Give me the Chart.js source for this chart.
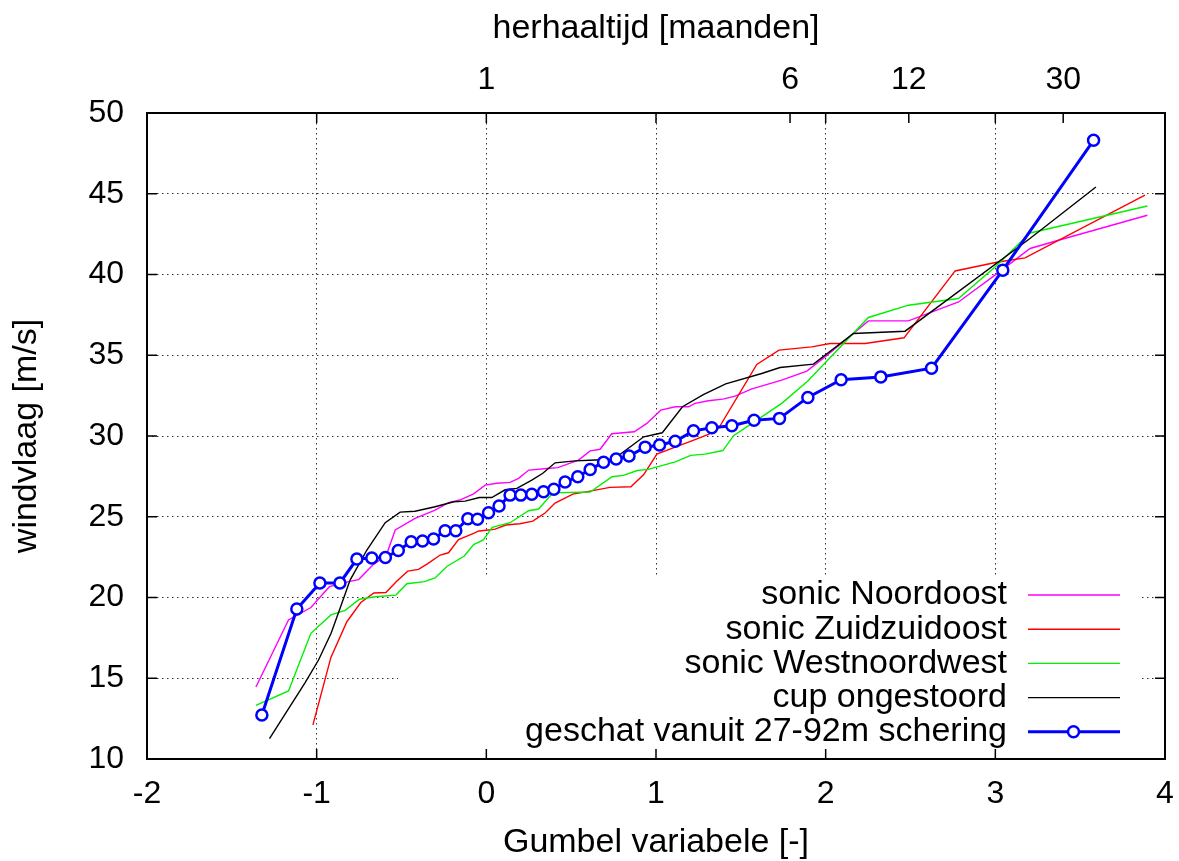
<!DOCTYPE html>
<html lang="nl">
<head>
<meta charset="UTF-8">
<title>Windvlaag tegen Gumbel variabele</title>
<script src="https://cdn.jsdelivr.net/npm/chart.js"></script>
<style>
  html, body { margin: 0; padding: 0; background: #fff; }
</style>
</head>
<body>
<canvas id="chart" width="1179" height="861"></canvas>
<script>
// --- data (x = Gumbel variabele, y = windvlaag m/s) ---
const noordoostX = [-1.358,-1.166,-1.034,-0.925,-0.812,-0.753,-0.669,-0.59,-0.537,-0.420,-0.302,-0.223,-0.150,-0.075,-0.007,0.062,0.140,0.190,0.250,0.357,0.421,0.543,0.612,0.671,0.739,0.872,0.946,1.028,1.113,1.192,1.230,1.309,1.394,1.466,1.565,1.741,1.889,1.996,2.252,2.488,2.783,3.018,3.205,3.372,3.896];
const noordoostY = [14.46,18.61,19.38,20.67,20.98,21.11,22.01,22.6,24.18,24.90,25.41,25.87,26.06,26.42,26.96,27.07,27.13,27.38,27.89,27.99,28.04,28.51,29.08,29.18,30.14,30.26,30.78,31.60,31.81,31.81,32.02,32.18,32.28,32.47,32.92,33.46,34.02,34.90,37.13,37.13,38.30,40.12,41.61,42.12,43.67];

const zuidzuidoostX = [-1.022,-0.916,-0.822,-0.740,-0.663,-0.592,-0.527,-0.463,-0.400,-0.345,-0.272,-0.223,-0.164,-0.075,-0.044,0.013,0.052,0.115,0.197,0.274,0.346,0.405,0.510,0.612,0.728,0.852,0.928,1.005,1.113,1.211,1.309,1.370,1.594,1.725,1.918,2.026,2.232,2.462,2.763,3.008,3.175,3.882];
const zuidzuidoostY = [12.11,16.29,18.50,19.69,20.28,20.31,21.02,21.63,21.74,22.10,22.63,22.77,23.59,23.97,24.12,24.18,24.23,24.49,24.57,24.73,25.23,25.85,26.40,26.59,26.82,26.86,27.61,28.88,29.31,29.70,30.10,30.49,34.43,35.32,35.52,35.73,35.73,36.08,40.22,40.76,41.03,44.91];

const westnoordwestX = [-1.358,-1.166,-1.034,-0.916,-0.832,-0.748,-0.655,-0.533,-0.468,-0.365,-0.302,-0.233,-0.130,-0.075,-0.018,0.035,0.140,0.249,0.308,0.392,0.612,0.741,0.808,0.890,0.955,1.113,1.205,1.288,1.394,1.457,1.594,1.741,1.895,2.252,2.488,2.783,2.998,3.205,3.896];
const westnoordwestY = [13.32,14.21,17.78,18.92,19.20,19.89,20.05,20.15,20.85,20.98,21.21,21.92,22.57,23.28,23.56,24.34,24.63,25.37,25.48,26.48,26.53,27.48,27.56,27.86,27.93,28.40,28.80,28.88,29.10,30.02,30.98,32.02,33.40,37.34,38.10,38.51,40.47,42.57,44.24];

const cupX = [-1.278,-1.068,-0.989,-0.915,-0.862,-0.803,-0.704,-0.596,-0.508,-0.420,-0.302,-0.192,-0.125,-0.041,0.032,0.111,0.180,0.268,0.333,0.405,0.523,0.641,0.751,0.928,1.037,1.156,1.279,1.411,1.623,1.731,1.928,2.164,2.468,3.204,3.593];
const cupY = [11.26,14.73,16.13,17.78,19.33,21.08,22.94,24.63,25.29,25.34,25.62,25.93,25.97,26.19,26.19,26.67,26.76,27.27,27.69,28.34,28.46,28.51,28.57,29.95,30.20,31.81,32.56,33.23,33.87,34.24,34.45,36.35,36.49,42.23,45.42];

const scheringX = [-1.323,-1.117,-0.981,-0.863,-0.763,-0.675,-0.595,-0.519,-0.443,-0.376,-0.311,-0.243,-0.180,-0.109,-0.052,0.013,0.075,0.140,0.203,0.268,0.337,0.398,0.464,0.539,0.612,0.691,0.765,0.841,0.936,1.021,1.113,1.221,1.329,1.447,1.578,1.728,1.895,2.091,2.325,2.624,3.044,3.579];
const scheringY = [12.73,19.29,20.90,20.90,22.38,22.44,22.48,22.91,23.45,23.50,23.62,24.13,24.13,24.88,24.84,25.25,25.66,26.34,26.34,26.39,26.55,26.70,27.15,27.48,27.93,28.38,28.57,28.76,29.31,29.44,29.67,30.32,30.51,30.63,30.97,31.09,32.39,33.48,33.66,34.20,40.27,48.31];

// top axis: herhaaltijd in maanden, at these Gumbel positions
const topTickLabels = ['1', '6', '12', '30'];
const topTickPos = [0, 1.79, 2.49, 3.40];

const seriesLabels = ['sonic Noordoost', 'sonic Zuidzuidoost', 'sonic Westnoordwest', 'cup ongestoord', 'geschat vanuit 27-92m schering'];

const FONT = '"Liberation Sans", Arial, Helvetica, sans-serif';
Chart.defaults.font.family = FONT;
Chart.defaults.color = '#000';

function pairs(xs, ys) {
  return xs.map((x, i) => ({ x: x, y: ys[i] }));
}

function thinLine(label, xs, ys, color, order) {
  return {
    label: label,
    data: pairs(xs, ys),
    borderColor: color,
    borderWidth: 1.4,
    pointRadius: 0,
    tension: 0,
    order: order
  };
}

const datasets = [
  thinLine(seriesLabels[0], noordoostX, noordoostY, '#ff00ff', 5),
  thinLine(seriesLabels[1], zuidzuidoostX, zuidzuidoostY, '#ff0000', 4),
  thinLine(seriesLabels[2], westnoordwestX, westnoordwestY, '#00f000', 3),
  thinLine(seriesLabels[3], cupX, cupY, '#000000', 2),
  {
    label: seriesLabels[4],
    data: pairs(scheringX, scheringY),
    borderColor: '#0000ff',
    borderWidth: 3,
    pointRadius: 5.5,
    pointBorderWidth: 2.5,
    pointBorderColor: '#0000ff',
    pointBackgroundColor: '#ffffff',
    tension: 0,
    order: 1
  }
];

// opaque key box, frame with inward ticks, and the key itself
const gnuFrame = {
  id: 'gnuFrame',
  beforeDatasetsDraw(chart) {
    const a = chart.chartArea, ctx = chart.ctx;
    ctx.save();
    ctx.fillStyle = '#fff';
    ctx.fillRect(398, 578, (a.right - 25) - 398, a.bottom - 578);
    ctx.restore();
  },
  afterDraw(chart) {
    const a = chart.chartArea, ctx = chart.ctx;
    const sx = chart.scales.x, sx2 = chart.scales.x2, sy = chart.scales.y;
    const TL = 10;
    ctx.save();
    ctx.strokeStyle = '#000';
    ctx.lineWidth = 1.5;
    ctx.beginPath();
    sx.ticks.forEach(t => {
      const p = sx.getPixelForValue(t.value);
      ctx.moveTo(p, a.bottom); ctx.lineTo(p, a.bottom - TL);
      ctx.moveTo(p, a.top); ctx.lineTo(p, a.top + TL);
    });
    sx2.ticks.forEach(t => {
      const p = sx2.getPixelForValue(t.value);
      ctx.moveTo(p, a.top); ctx.lineTo(p, a.top + TL);
    });
    sy.ticks.forEach(t => {
      const p = sy.getPixelForValue(t.value);
      ctx.moveTo(a.left, p); ctx.lineTo(a.left + TL, p);
      ctx.moveTo(a.right, p); ctx.lineTo(a.right - TL, p);
    });
    ctx.stroke();
    ctx.lineWidth = 2;
    ctx.strokeRect(a.left, a.top, a.right - a.left, a.bottom - a.top);

    // key
    ctx.font = '34px ' + FONT;
    ctx.textAlign = 'right';
    ctx.textBaseline = 'middle';
    const keyOrder = [0, 1, 2, 3, 4];
    keyOrder.forEach((di, row) => {
      const ds = chart.data.datasets[di];
      const y = a.bottom - 164 + row * 34.2;
      ctx.fillStyle = '#000';
      ctx.fillText(ds.label, a.right - 158, y);
      ctx.strokeStyle = ds.borderColor;
      ctx.lineWidth = ds.borderWidth;
      ctx.beginPath();
      ctx.moveTo(a.right - 137, y);
      ctx.lineTo(a.right - 45, y);
      ctx.stroke();
      if (ds.pointRadius) {
        ctx.beginPath();
        ctx.arc(a.right - 91.5, y, ds.pointRadius, 0, Math.PI * 2);
        ctx.fillStyle = ds.pointBackgroundColor;
        ctx.fill();
        ctx.lineWidth = ds.pointBorderWidth;
        ctx.strokeStyle = ds.pointBorderColor;
        ctx.stroke();
      }
    });
    ctx.restore();
  }
};

const gridDots = { display: false, dash: [1.5, 3.5] };

new Chart(document.getElementById('chart'), {
  type: 'line',
  data: { datasets: datasets },
  options: {
    responsive: false,
    animation: false,
    layout: { padding: { left: 0, right: 14, top: 0, bottom: 0 } },
    plugins: {
      legend: { display: false },
      tooltip: { enabled: false }
    },
    scales: {
      x: {
        type: 'linear',
        position: 'bottom',
        min: -2,
        max: 4,
        ticks: { stepSize: 1, padding: 0, font: { size: 32, lineHeight: 2.2 }, color: '#000' },
        grid: { color: '#333', lineWidth: 1, drawTicks: false },
        border: gridDots,
        title: {
          display: true,
          text: 'Gumbel variabele [-]',
          font: { size: 34, lineHeight: 1 },
          padding: { top: 0, bottom: 1 },
          color: '#000'
        },
        afterFit(scale) { scale.height = 102; }
      },
      x2: {
        type: 'linear',
        position: 'top',
        min: -2,
        max: 4,
        afterBuildTicks(scale) {
          scale.ticks = topTickPos.map(v => ({ value: v }));
        },
        ticks: {
          autoSkip: false,
          padding: 14,
          font: { size: 32 },
          color: '#000',
          callback: (value, index) => topTickLabels[index]
        },
        grid: { display: false, drawTicks: false },
        border: { display: false },
        title: {
          display: true,
          text: 'herhaaltijd [maanden]',
          font: { size: 34, lineHeight: 1 },
          padding: { top: 12, bottom: 0 },
          color: '#000'
        },
        afterFit(scale) { scale.height = 113; }
      },
      y: {
        type: 'linear',
        position: 'left',
        min: 10,
        max: 50,
        ticks: { stepSize: 5, padding: 23, font: { size: 32 }, color: '#000' },
        grid: { color: '#333', lineWidth: 1, drawTicks: false },
        border: gridDots,
        title: {
          display: true,
          text: 'windvlaag [m/s]',
          font: { size: 34, lineHeight: 1 },
          padding: { top: 10, bottom: 0 },
          color: '#000'
        },
        afterFit(scale) { scale.width = 147; }
      }
    }
  },
  plugins: [gnuFrame]
});
</script>
</body>
</html>
